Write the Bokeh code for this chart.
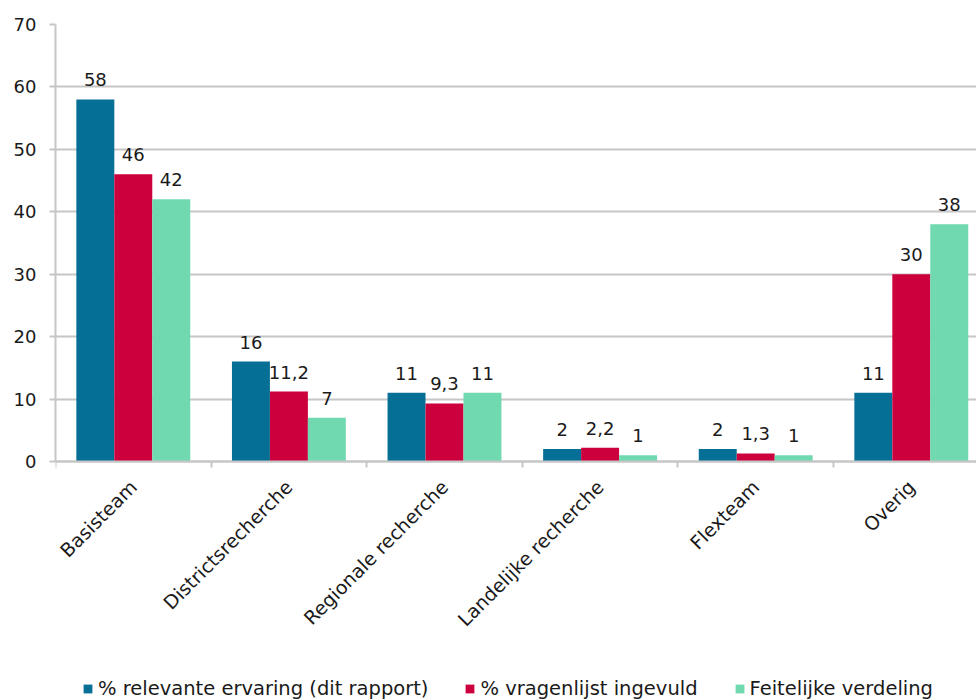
import numpy as np
from bokeh.plotting import figure
from bokeh.models import (ColumnDataSource, Range1d, FixedTicker, Legend, LegendItem,
                          LabelSet)
from bokeh.core.properties import value
from bokeh.embed import file_html
from bokeh.resources import INLINE

categories = ["Basisteam", "Districtsrecherche", "Regionale recherche",
              "Landelijke recherche", "Flexteam", "Overig"]
series_names = ["% relevante ervaring (dit rapport)", "% vragenlijst ingevuld",
                "Feitelijke verdeling"]
relevante = [58, 16, 11, 2, 2, 11]
vragenlijst = [46, 11.2, 9.3, 2.2, 1.3, 30]
feitelijk = [42, 7, 11, 1, 1, 38]
colors = ["#066F96", "#CC003C", "#70D9B0"]
y_ticks = [0, 10, 20, 30, 40, 50, 60, 70]

FONT = "DejaVu Sans"
FS = "18px"
FS_TXT = "19px"
FS_LEG = "19.5px"
TXT = "#1a1a1a"
GRID = "#C6C6C6"
bar_w = 0.244
offsets = [-bar_w, 0.0, bar_w]

# plotting frame reaches the bottom of the picture so the legend can sit inside it;
# value 0 lies at 461px, value 70 at 24px
px_per_unit = 437 / 70
y_min = -(700 - 461) / px_per_unit

p = figure(width=976, height=700, output_backend="svg", toolbar_location=None,
           x_range=Range1d(0, 921 / 155.6), y_range=Range1d(y_min, 70),
           min_border_left=55, min_border_right=0, min_border_top=24,
           min_border_bottom=0, frame_width=921, frame_height=676)
p.outline_line_color = None
p.background_fill_color = "white"
p.border_fill_color = "white"

centers = np.arange(len(categories)) + 0.5
renderers = []
for vals, off, col in zip([relevante, vragenlijst, feitelijk], offsets, colors):
    labels = [("%g" % v).replace(".", ",") for v in vals]
    src = ColumnDataSource(dict(x=centers + off, top=vals, lab=labels))
    r = p.vbar(x="x", top="top", bottom=0, width=bar_w, source=src, fill_color=col,
               line_color=None)
    renderers.append(r)
    ls = LabelSet(x="x", y="top", text="lab", source=src, text_align="center",
                  text_baseline="alphabetic", y_offset=13, text_font=value(FONT),
                  text_font_size=FS, text_color=TXT)
    p.add_layout(ls)

# x axis drawn at value 0
p.xaxis.fixed_location = 0
p.xaxis.ticker = FixedTicker(ticks=list(centers),
                             minor_ticks=list(range(len(categories) + 1)))
p.xaxis.major_label_overrides = {float(c): n for c, n in zip(centers, categories)}
p.xaxis.major_label_orientation = np.pi / 4
p.xaxis.major_tick_line_color = None
p.xaxis.minor_tick_line_color = GRID
p.xaxis.minor_tick_line_width = 2
p.xaxis.minor_tick_out = 6
p.xaxis.minor_tick_in = 0
p.xaxis.axis_line_color = GRID
p.xaxis.axis_line_width = 2
p.xaxis.major_label_text_font = FONT
p.xaxis.major_label_text_font_size = FS_TXT
p.xaxis.major_label_text_color = TXT
p.xaxis.major_label_standoff = 16

p.yaxis.ticker = FixedTicker(ticks=y_ticks)
p.yaxis.bounds = (0, 70)
p.yaxis.axis_line_color = GRID
p.yaxis.axis_line_width = 2
p.yaxis.major_tick_line_color = GRID
p.yaxis.major_tick_line_width = 2
p.yaxis.major_tick_out = 6
p.yaxis.major_tick_in = 0
p.yaxis.minor_tick_line_color = None
p.yaxis.major_label_text_font = FONT
p.yaxis.major_label_text_font_size = FS
p.yaxis.major_label_text_color = TXT
p.yaxis.major_label_standoff = 13

p.xgrid.grid_line_color = None
p.ygrid.grid_line_color = GRID
p.ygrid.grid_line_width = 2

legend = Legend(items=[LegendItem(label=n, renderers=[r]) for n, r in zip(series_names, renderers)],
                orientation="horizontal", location=(27, 0),
                label_text_font=FONT, label_text_font_size=FS_LEG,
                label_text_color=TXT, glyph_width=11, glyph_height=11,
                label_standoff=5, spacing=36, padding=0, margin=0,
                border_line_color=None, background_fill_alpha=0)
p.add_layout(legend, "center")

open("out.html", "w").write(file_html(p, INLINE))
